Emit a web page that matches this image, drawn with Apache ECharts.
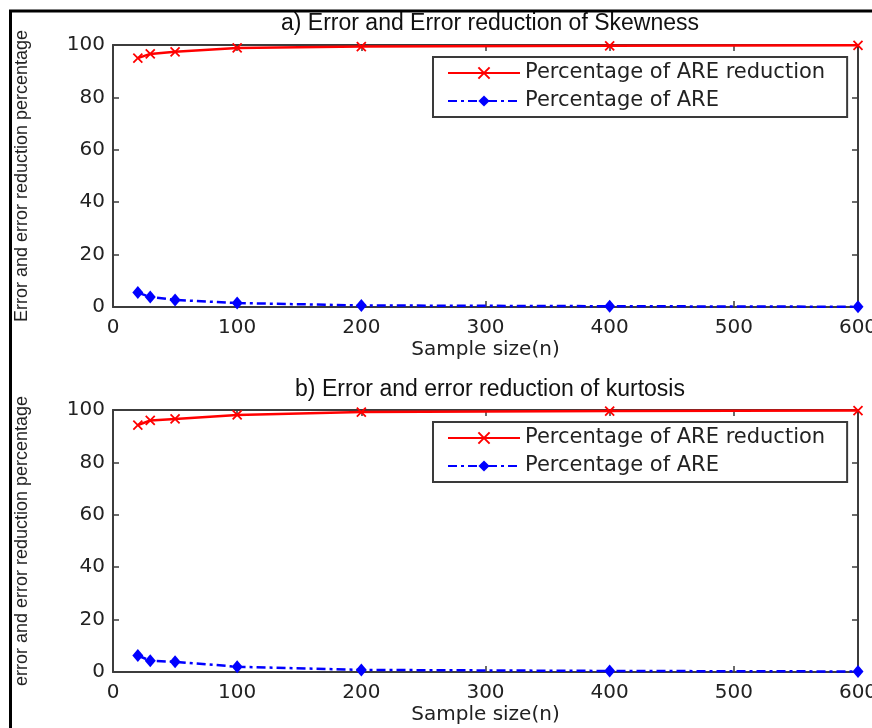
<!DOCTYPE html>
<html>
<head>
<meta charset="utf-8">
<title>Error and error reduction</title>
<script src="https://cdn.jsdelivr.net/npm/echarts@6/dist/echarts.min.js"></script>
<style>
  html, body { margin: 0; padding: 0; background: #ffffff; }
  #chart { width: 872px; height: 728px; }
</style>
</head>
<body>
<div id="chart"></div>
<script>
// Sample sizes (x values shared by both panels)
const sampleSizes = [20, 30, 50, 100, 200, 400, 600];

// Panel a) skewness
const skewReduction = [95.0, 96.6, 97.4, 98.9, 99.4, 99.7, 99.9];
const skewAre = [5.5, 3.8, 2.7, 1.5, 0.6, 0.3, 0.1];

// Panel b) kurtosis
const kurtReduction = [94.2, 96.0, 96.6, 98.1, 99.2, 99.6, 99.8];
const kurtAre = [6.3, 4.3, 3.9, 2.0, 0.8, 0.4, 0.2];

const seriesNames = ['Percentage of ARE reduction', 'Percentage of ARE'];
const panelTitles = ['a) Error and Error reduction of Skewness', 'b) Error and error reduction of kurtosis'];
const yAxisNames = ['Error and error reduction percentage', 'error and error reduction percentage'];
const xAxisName = 'Sample size(n)';

const AXIS_COLOR = '#3c3c3c';
const TEXT_COLOR = '#222222';
const WIDE_FONT = "'DejaVu Sans', sans-serif";
const NARROW_FONT = "'Liberation Sans', Arial, sans-serif";

const pairs = (xs, ys) => xs.map((x, i) => [x, ys[i]]);

const grids = [
  { left: 113, width: 745, top: 45, height: 262, outerBoundsMode: 'none', containLabel: false },
  { left: 113, width: 745, top: 410, height: 262, outerBoundsMode: 'none', containLabel: false }
];

// Box-style axes: labelled bottom/left axes plus bare top/right ones,
// all with inward ticks and lines kept on the grid edges.
function xAxes(gi) {
  const base = {
    type: 'value', gridIndex: gi, min: 0, max: 600, interval: 100,
    splitLine: { show: false },
    axisLine: { show: true, onZero: false, lineStyle: { color: AXIS_COLOR, width: 2 } },
    axisTick: { show: true, inside: true, length: 6, lineStyle: { color: AXIS_COLOR, width: 1.5 } }
  };
  return [
    Object.assign({}, base, {
      position: 'bottom',
      name: xAxisName, nameLocation: 'middle', nameGap: 33,
      nameTextStyle: { fontFamily: WIDE_FONT, fontSize: 20, color: TEXT_COLOR },
      axisLabel: { margin: 11, fontFamily: WIDE_FONT, fontSize: 20, color: TEXT_COLOR }
    }),
    Object.assign({}, base, { position: 'top', axisLabel: { show: false } })
  ];
}

function yAxes(gi) {
  const base = {
    type: 'value', gridIndex: gi, min: 0, max: 100, interval: 20,
    splitLine: { show: false },
    axisLine: { show: true, onZero: false, lineStyle: { color: AXIS_COLOR, width: 2 } },
    axisTick: { show: true, inside: true, length: 6, lineStyle: { color: AXIS_COLOR, width: 1.5 } }
  };
  return [
    Object.assign({}, base, {
      position: 'left',
      name: yAxisNames[gi], nameLocation: 'middle', nameGap: 82, nameRotate: 90,
      nameTextStyle: { fontFamily: NARROW_FONT, fontSize: 18, color: TEXT_COLOR },
      axisLabel: { margin: 8, fontFamily: WIDE_FONT, fontSize: 20, color: TEXT_COLOR }
    }),
    Object.assign({}, base, { position: 'right', axisLabel: { show: false } })
  ];
}

const X_MARK = 'path://M0,0L10,10M10,0L0,10';

function reductionSeries(gi, values) {
  return {
    name: seriesNames[0], type: 'line',
    xAxisIndex: gi * 2, yAxisIndex: gi * 2,
    data: pairs(sampleSizes, values),
    symbol: X_MARK, symbolSize: 9, showAllSymbol: true,
    lineStyle: { color: '#ff0000', width: 2.5, type: 'solid' },
    itemStyle: { color: '#ff0000', borderColor: '#ff0000', borderWidth: 1.8 },
    z: 3, animation: false
  };
}

function areSeries(gi, values) {
  return {
    name: seriesNames[1], type: 'line',
    xAxisIndex: gi * 2, yAxisIndex: gi * 2,
    data: pairs(sampleSizes, values),
    symbol: 'diamond', symbolSize: [11, 13], showAllSymbol: true,
    lineStyle: { color: '#0000ff', width: 2.5, type: [9, 4, 3, 4] },
    itemStyle: { color: '#0000ff' },
    z: 3, animation: false
  };
}

function legendAt(top) {
  return {
    orient: 'vertical', left: 433, top: top,
    data: seriesNames,
    itemWidth: 72, itemHeight: 14, itemGap: 6,
    padding: [5, 22, 5, 14],
    backgroundColor: '#ffffff',
    borderColor: '#3a3a3a', borderWidth: 2, borderRadius: 0,
    selectedMode: false,
    textStyle: { fontFamily: WIDE_FONT, fontSize: 21, color: TEXT_COLOR, lineHeight: 22 }
  };
}

const chart = echarts.init(document.getElementById('chart'), null, { renderer: 'canvas' });

chart.setOption({
  backgroundColor: '#ffffff',
  animation: false,
  title: [
    { text: panelTitles[0], left: 485, top: 7, textAlign: 'center',
      textStyle: { fontFamily: NARROW_FONT, fontSize: 23, fontWeight: 'normal', color: '#111' } },
    { text: panelTitles[1], left: 485, top: 373, textAlign: 'center',
      textStyle: { fontFamily: NARROW_FONT, fontSize: 23, fontWeight: 'normal', color: '#111' } }
  ],
  grid: grids,
  xAxis: xAxes(0).concat(xAxes(1)),
  yAxis: yAxes(0).concat(yAxes(1)),
  legend: [legendAt(57), legendAt(422)],
  series: [
    reductionSeries(0, skewReduction),
    areSeries(0, skewAre),
    reductionSeries(1, kurtReduction),
    areSeries(1, kurtAre)
  ],
  graphic: [
    // outer black frame of the figure
    { type: 'rect', silent: true, z: 100,
      shape: { x: 10.5, y: 11, width: 900, height: 800 },
      style: { fill: 'none', stroke: '#000000', lineWidth: 3 } }
  ]
});
</script>
</body>
</html>
